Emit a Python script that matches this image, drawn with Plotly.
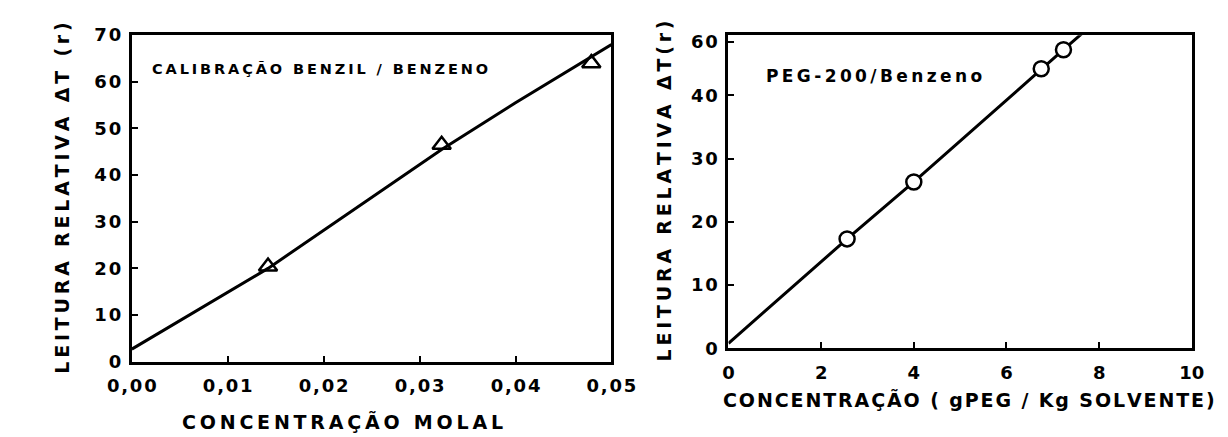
import plotly.graph_objects as go

# left panel: calibration benzil / benzeno
calib_x = [0.0142, 0.0323, 0.0479]
calib_y = [20.4, 46.5, 64.0]
calib_line_x = [0.0, 0.0142, 0.0323, 0.040, 0.050]
calib_line_y = [2.7, 20.0, 45.5, 55.5, 68.0]
calib_xticks = [0.0, 0.01, 0.02, 0.03, 0.04, 0.05]
calib_xtext = ["0,00", "0,01", "0,02", "0,03", "0,04", "0,05"]
calib_yticks = [0, 10, 20, 30, 40, 50, 60, 70]
calib_ytext = ["0", "10", "20", "30", "40", "50", "60", "70"]

# right panel: PEG-200 / benzeno
peg_x = [2.56, 4.0, 6.75, 7.23]
peg_y = [17.3, 26.3, 44.2, 47.2]
peg_line_x = [0.0, 2.56, 4.0, 6.75, 7.23, 7.9]
peg_line_y = [0.8, 17.3, 26.3, 44.2, 47.2, 51.5]
peg_xticks = [0, 2, 4, 6, 8, 10]
peg_yticks = [0, 10, 20, 30, 40, 48.4]
peg_ytext = ["0", "10", "20", "30", "40", "60"]

W, H = 1228, 437
FONT = "DejaVu Sans"
THIN = "\u2009"
HAIR = "\u200a"


def spaced(text, sep=THIN):
    # the scanned lettering is widely tracked
    return sep.join(text)


tick_font = dict(family=FONT, size=18, color="black", weight="bold")

fig = go.Figure()

fig.add_trace(go.Scatter(
    x=calib_line_x, y=calib_line_y, mode="lines",
    line=dict(color="black", width=3), xaxis="x", yaxis="y",
    showlegend=False,
))
fig.add_trace(go.Scatter(
    x=calib_x, y=calib_y, mode="markers",
    marker=dict(symbol="triangle-up-open", size=16, color="black",
                line=dict(width=2.5, color="black")),
    xaxis="x", yaxis="y", showlegend=False,
))
fig.add_trace(go.Scatter(
    x=peg_line_x, y=peg_line_y, mode="lines",
    line=dict(color="black", width=3), xaxis="x2", yaxis="y2",
    showlegend=False,
))
fig.add_trace(go.Scatter(
    x=peg_x, y=peg_y, mode="markers",
    marker=dict(symbol="circle", size=15, color="white",
                line=dict(width=2.5, color="black")),
    xaxis="x2", yaxis="y2", showlegend=False,
))

axis_style = dict(
    showline=True, linecolor="black", linewidth=3, mirror=True,
    ticks="inside", ticklen=6, tickwidth=1.5, tickcolor="black",
    showgrid=False, zeroline=False, tickfont=tick_font,
)

fig.update_layout(
    width=W, height=H,
    margin=dict(l=0, r=0, t=0, b=0),
    plot_bgcolor="white", paper_bgcolor="white",
    xaxis=dict(domain=[103 / W, 603 / W], range=[0, 0.05],
               tickvals=calib_xticks,
               ticktext=[spaced(t, HAIR) for t in calib_xtext],
               anchor="y", ticklabelstandoff=6, **axis_style),
    yaxis=dict(domain=[1 - 360 / H, 1 - 17 / H], range=[0, 70],
               tickvals=calib_yticks,
               ticktext=[spaced(t, HAIR) for t in calib_ytext],
               anchor="x", ticklabelstandoff=4, **axis_style),
    xaxis2=dict(domain=[725 / W, 1208 / W], range=[0, 10],
                tickvals=peg_xticks, anchor="y2",
                ticklabelstandoff=6, **axis_style),
    yaxis2=dict(domain=[1 - 346 / H, 1 - 17 / H], range=[0, 49.5],
                tickvals=peg_yticks,
                ticktext=[spaced(t, HAIR) for t in peg_ytext],
                anchor="x2", ticklabelstandoff=4, **axis_style),
)

title_font = dict(family=FONT, size=19, color="black", weight="bold")
notes = [
    dict(x=30 / W, y=1 - 188 / H, textangle=-90,
         text=spaced("LEITURA RELATIVA ΔT (r)")),
    dict(x=658 / W, y=1 - 181 / H, textangle=-90,
         text=spaced("LEITURA RELATIVA ΔT(r)")),
    dict(x=323 / W, y=1 - 423 / H,
         text=spaced("CONCENTRAÇÃO MOLAL")),
    dict(x=976 / W, y=1 - 400 / H,
         text=spaced("CONCENTRAÇÃO ( gPEG / Kg SOLVENTE)", HAIR)),
]
for n in notes:
    fig.add_annotation(xref="paper", yref="paper", showarrow=False,
                       xanchor="center", yanchor="middle",
                       font=title_font, **n)

fig.add_annotation(xref="paper", yref="paper", x=122 / W, y=1 - 52 / H,
                   text=spaced("CALIBRAÇÃO BENZIL / BENZENO"), showarrow=False,
                   xanchor="left", yanchor="middle",
                   font=dict(family=FONT, size=14.5, color="black", weight="bold"))
fig.add_annotation(xref="paper", yref="paper", x=762 / W, y=1 - 60 / H,
                   text=spaced("PEG-200/Benzeno"), showarrow=False,
                   xanchor="left", yanchor="middle",
                   font=dict(family=FONT, size=17, color="black", weight="bold"))

fig.write_html("out.html")
